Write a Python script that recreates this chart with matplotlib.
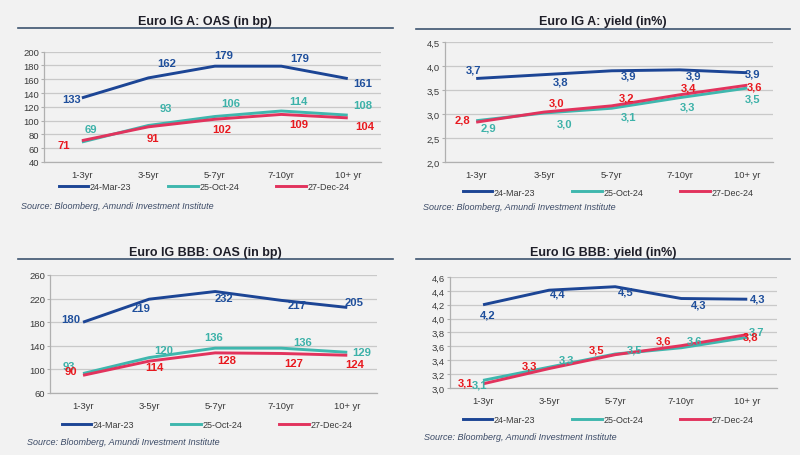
import matplotlib
matplotlib.use("Agg")
import matplotlib.pyplot as plt
import numpy as np
from matplotlib.lines import Line2D
from matplotlib.ticker import FuncFormatter

plt.rcParams['font.family'] = ['Liberation Sans', 'DejaVu Sans']

W, H = 800, 456
BG = '#f2f2f2'
C_BLUE, C_TEAL, C_RED = '#1c4595', '#3fb7ae', '#e2335d'
L_BLUE, L_TEAL, L_RED = '#1f4f9c', '#3db2a9', '#e8191f'

maturities = ['1-3yr', '3-5yr', '5-7yr', '7-10yr', '10+ yr']
series_names = ['24-Mar-23', '25-Oct-24', '27-Dec-24']
source = 'Source: Bloomberg, Amundi Investment Institute'

# Euro IG A: OAS (bp)
a_oas_mar23 = [133, 162, 179, 179, 161]
a_oas_oct24 = [69, 93, 106, 114, 108]
a_oas_dec24 = [71, 91, 102, 109, 104]

# Euro IG A: yield (%)
a_yld_mar23 = [3.74, 3.82, 3.90, 3.92, 3.86]
a_yld_oct24 = [2.86, 3.02, 3.12, 3.34, 3.54]
a_yld_dec24 = [2.83, 3.04, 3.17, 3.40, 3.60]

# Euro IG BBB: OAS (bp)
bbb_oas_mar23 = [180, 219, 232, 217, 205]
bbb_oas_oct24 = [93, 120, 136, 136, 129]
bbb_oas_dec24 = [90, 114, 128, 127, 124]

# Euro IG BBB: yield (%)
bbb_yld_mar23 = [4.20, 4.41, 4.46, 4.29, 4.28]
bbb_yld_oct24 = [3.11, 3.30, 3.49, 3.58, 3.73]
bbb_yld_dec24 = [3.06, 3.28, 3.48, 3.61, 3.77]

# label offsets in pixels (dx, dy up), one list per series
off_a_oas = [[(-10, -1), (18, 15), (9, 11), (18, 8), (15, -4)],
             [(9, 13), (17, 17), (16, 14), (17, 10), (15, 10)],
             [(-18, -4), (5, -11), (7, -10), (17, -10), (17, -8)]]
off_a_yld = [[(-3, 9), (17, -7), (17, -5), (14, -6), (5, -1)],
             [(12, -7), (21, -10), (17, -8), (8, -9), (5, -10)],
             [(-14, 3), (13, 10), (15, 8), (9, 7), (7, -1)]]
off_bbb_oas = [[(-12, 3), (-8, -9), (9, -6), (16, -5), (7, 5)],
               [(-14, 8), (15, 8), (-2, 11), (21, 6), (14, 0)],
               [(-12, 4), (5, -6), (12, -7), (12, -10), (7, -9)]]
off_bbb_yld = [[(5, -10), (9, -3), (11, -5), (17, -6), (10, 1)],
               [(-3, -4), (17, 8), (19, 5), (13, 7), (9, 6)],
               [(-17, 1), (-20, 3), (-19, 5), (-18, 5), (3, -2)]]


def fx(px):
    return px / W


def fy(py):
    return 1 - py / H


def fmt_comma(v, pos=None):
    return ('%.1f' % v).replace('.', ',')


def panel(fig, box, title, tbox, uline, values, offsets, ylim, ystep, legy, srcxy, yld):
    x0, x1, y0, y1, xl0, xl1 = box
    ax = fig.add_axes([fx(x0), fy(y1), fx(x1 - x0), (y1 - y0) / H])
    ax.set_facecolor(BG)
    xs = range(len(maturities))
    cols = [C_BLUE, C_TEAL, C_RED]
    lcols = [L_BLUE, L_TEAL, L_RED]
    for vals, c, lc, offs in zip(values, cols, lcols, offsets):
        ax.plot(xs, vals, color=c, lw=2.1, solid_capstyle='butt', zorder=3)
        for x, v, (dx, dy) in zip(xs, vals, offs):
            lab = fmt_comma(v) if yld else '%d' % v
            ax.annotate(lab, (x, v), xytext=(dx, dy), textcoords='offset pixels',
                        ha='center', va='center', fontsize=8.1, color=lc,
                        fontweight='bold', zorder=4)
    ax.set_xlim(xl0, xl1)
    ax.set_ylim(*ylim)
    ax.set_yticks(np.arange(ylim[0], ylim[1] + ystep / 2, ystep))
    if yld:
        ax.yaxis.set_major_formatter(FuncFormatter(fmt_comma))
    ax.set_xticks(list(xs))
    ax.set_xticklabels(maturities)
    ax.grid(axis='y', color='#c9c9c9', lw=0.9)
    ax.set_axisbelow(True)
    for s in ['top', 'right']:
        ax.spines[s].set_visible(False)
    for s in ['left', 'bottom']:
        ax.spines[s].set_color('#b0b0b0')
        ax.spines[s].set_linewidth(0.9)
    ax.tick_params(axis='y', length=2, color='#b0b0b0', labelsize=6.8,
                   labelcolor='#3a3a3a', pad=1.5)
    ax.tick_params(axis='x', length=0, labelsize=6.8, labelcolor='#3a3a3a', pad=6)

    fig.text(fx(tbox[0]), fy(tbox[1]), title, ha='center', va='center',
             fontsize=9, fontweight='bold', color='#1e1e28')
    fig.add_artist(Line2D([fx(uline[0]), fx(uline[1])], [fy(uline[2])] * 2,
                          color='#3d5470', lw=1.2))
    handles = [Line2D([], [], color=c, lw=2.1) for c in cols]
    fig.legend(handles, series_names, loc='center',
               bbox_to_anchor=(fx(legy[0]), fy(legy[1])), ncol=3, frameon=False,
               fontsize=6.5, handlelength=3.3, handletextpad=0.15,
               columnspacing=4.1, labelcolor='#3a3a3a')
    fig.text(fx(srcxy[0]), fy(srcxy[1]), source, ha='left', va='center',
             fontsize=6.5, style='italic', color='#3b4a66')
    return ax


fig = plt.figure(figsize=(W / 100, H / 100), dpi=100)
fig.patch.set_facecolor(BG)

panel(fig, (44, 381, 52.7, 163, -0.57, 4.5), 'Euro IG A: OAS (in bp)', (205, 22),
      (18, 393, 29), [a_oas_mar23, a_oas_oct24, a_oas_dec24], off_a_oas,
      (40, 200), 20, (204, 188), (21, 207), False)
panel(fig, (445, 773, 43, 163, -0.46, 4.38), 'Euro IG A: yield (in%)', (603, 22),
      (416, 790, 30), [a_yld_mar23, a_yld_oct24, a_yld_dec24], off_a_yld,
      (2.0, 4.5), 0.5, (608, 193), (423, 208), True)
panel(fig, (50, 377, 276, 394, -0.5, 4.45), 'Euro IG BBB: OAS (in bp)', (205, 253),
      (18, 393, 260), [bbb_oas_mar23, bbb_oas_oct24, bbb_oas_dec24], off_bbb_oas,
      (60, 260), 40, (207, 426), (27, 443), False)
panel(fig, (450, 777, 278, 389, -0.5, 4.45), 'Euro IG BBB: yield (in%)', (603, 253),
      (416, 790, 260), [bbb_yld_mar23, bbb_yld_oct24, bbb_yld_dec24], off_bbb_yld,
      (3.0, 4.6), 0.2, (608, 421), (424, 438), True)

fig.savefig('out.png', dpi=100, facecolor=BG)
